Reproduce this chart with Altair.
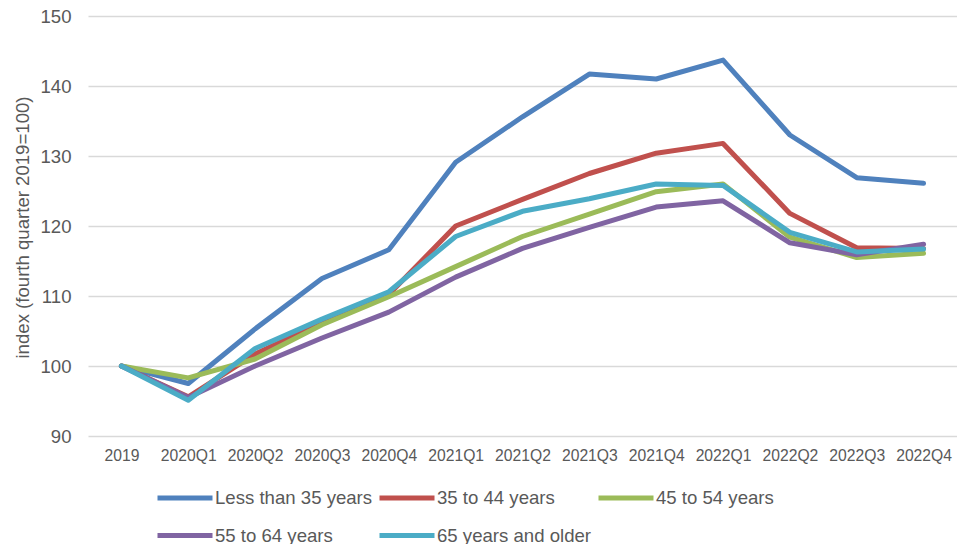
import altair as alt
import pandas as pd

# Quarterly index by age group (fourth quarter 2019 = 100)
periods = ["2019", "2020Q1", "2020Q2", "2020Q3", "2020Q4",
           "2021Q1", "2021Q2", "2021Q3", "2021Q4",
           "2022Q1", "2022Q2", "2022Q3", "2022Q4"]

groups = ["Less than 35 years", "35 to 44 years", "45 to 54 years",
          "55 to 64 years", "65 years and older"]

under_35 = [100, 97.5, 105.3, 112.5, 116.6, 129.1, 135.6, 141.7, 141.0, 143.7, 133.0, 126.9, 126.1]
age_35_44 = [100, 95.6, 101.7, 106.2, 110.2, 120.0, 123.8, 127.5, 130.4, 131.8, 121.8, 116.9, 116.8]
age_45_54 = [100, 98.3, 101.0, 105.9, 109.9, 114.2, 118.5, 121.7, 124.9, 126.0, 118.4, 115.5, 116.1]
age_55_64 = [100, 95.5, 100.0, 104.0, 107.7, 112.7, 116.8, 119.8, 122.7, 123.6, 117.6, 115.9, 117.4]
age_65_up = [100, 95.1, 102.5, 106.7, 110.6, 118.5, 122.1, 123.9, 126.0, 125.8, 119.1, 116.3, 116.7]

colors = ["#4f81bd", "#c0504d", "#9bbb59", "#8064a2", "#4bacc6"]

series = [under_35, age_35_44, age_45_54, age_55_64, age_65_up]
rows = []
for order, (name, values) in enumerate(zip(groups, series)):
    for period, value in zip(periods, values):
        rows.append({"period": period, "group": name, "order": order, "index": value})
df = pd.DataFrame(rows)

FONT = "Liberation Sans"
TEXT = "#595959"

chart = (
    alt.Chart(df)
    .mark_line(strokeWidth=5, strokeCap="round", strokeJoin="round")
    .encode(
        x=alt.X(
            "period:N",
            sort=periods,
            scale=alt.Scale(type="point", padding=0.5),
            axis=alt.Axis(
                title=None, labelAngle=0, ticks=False, domain=False, grid=False,
                labelFontSize=15.7, labelColor=TEXT, labelFont=FONT, labelPadding=12,
            ),
        ),
        y=alt.Y(
            "index:Q",
            scale=alt.Scale(domain=[90, 150], nice=False, zero=False),
            axis=alt.Axis(
                title="index (fourth quarter 2019=100)",
                values=[90, 100, 110, 120, 130, 140, 150],
                ticks=False, domain=False, grid=True,
                gridColor="#d9d9d9", gridWidth=1.4,
                labelFontSize=18.6, labelColor=TEXT, labelFont=FONT, labelPadding=17,
                titleFontSize=18.6, titleColor=TEXT, titleFont=FONT, titleFontWeight="normal",
                titleX=-56, titleY=211,
            ),
        ),
        color=alt.Color(
            "group:N",
            sort=groups,
            scale=alt.Scale(domain=groups, range=colors),
            legend=alt.Legend(
                title=None, orient="none", legendX=67, legendY=472,
                columns=3, direction="horizontal",
                symbolType="stroke", symbolSize=3025, symbolStrokeWidth=5,
                clipHeight=19, rowPadding=18, columnPadding=4,
                labelFontSize=18.6, labelColor=TEXT, labelFont=FONT,
                labelOffset=0, symbolOffset=0, labelLimit=400,
            ),
        ),
        order=alt.Order("order:Q"),
    )
    .properties(
        width=869, height=420,
        background="white",
        padding={"left": 88, "top": 16, "right": 0, "bottom": 108},
        autosize=alt.AutoSizeParams(type="none"),
    )
    .configure_view(strokeWidth=0, stroke="transparent")
)

chart.save("out.html", embed_options={"renderer": "svg", "actions": False})
